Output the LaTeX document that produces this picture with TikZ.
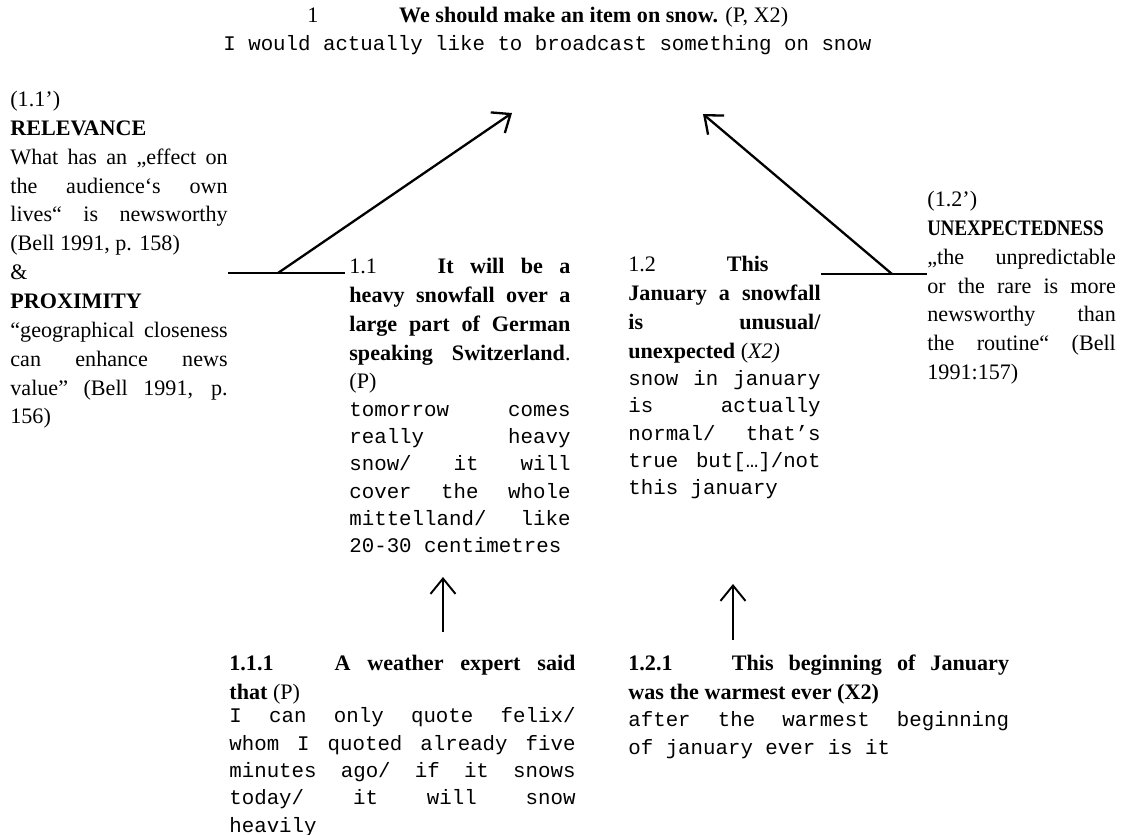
\documentclass[tikz,border=0pt]{standalone}
\usepackage{graphicx}
\usepackage{fontspec}
\setmainfont{Liberation Serif}
\setmonofont{Liberation Mono}
\usetikzlibrary{arrows.meta}
\setlength{\parindent}{0pt}

% mono text with stretchable spaces
\newcommand\tw{\ttfamily\fontsize{10.8}{14.2}\selectfont\spaceskip=0.6em plus 3em minus 0.05em\relax}

\tikzset{
  txt/.style={anchor=north west, inner sep=0pt, align=justify,
    font=\fontsize{11.5}{15}\selectfont},
  arr/.style={-{Straight Barb[length=8pt,width=13pt]}, line width=1.2pt},
  bar/.style={line width=1pt},
}

\begin{document}
\begin{tikzpicture}[x=0.52pt,y=-0.52pt]
    \useasboundingbox (0,0) rectangle (1127,835);

    % claim 1
    \node[txt, anchor=west, align=left] (title) at (307,17)
        {1\hspace{42pt}\textbf{We should make an item on snow.} (P, X2)};
    \node[txt, anchor=west, align=left] (gloss) at (223,45)
        {\tw I would actually like to broadcast something on snow};

    % warrant 1.1'
    \node[txt, text width=113pt] (rel) at (10,86) {\strut(1.1’)\par
        \textbf{RELEVANCE}\par
        What has an „effect on\linebreak the audience‘s own\linebreak lives“ is newsworthy\linebreak (Bell 1991, p. 158)\par
        \&\par
        \textbf{PROXIMITY}\par
        “geographical closeness\linebreak can enhance news\linebreak value” (Bell 1991, p.\linebreak 156)};

    % premise 1.1
    \node[txt, text width=115pt] (n11) at (349,253) {\strut1.1\hspace{2em} \textbf{It will be a}\linebreak
        \textbf{heavy snowfall over a}\linebreak
        \textbf{large part of German}\linebreak
        \textbf{speaking Switzerland}.\linebreak
        (P)\par
        {\tw tomorrow comes\linebreak really heavy\linebreak snow/ it will\linebreak cover the whole\linebreak mittelland/ like\linebreak 20-30 centimetres\par}};

    % premise 1.2
    \node[txt, text width=100pt] (n12) at (628,251) {\strut1.2\hspace{3.2em}\textbf{This}\hfil\break
        \textbf{January a snowfall}\linebreak
        \textbf{is unusual/}\linebreak
        \textbf{unexpected} (\textit{X2)}\par
        {\tw snow in january\linebreak is actually\linebreak normal/ that’s\linebreak true but[…]/not\linebreak this january\par}};

    % warrant 1.2'
    \node[txt, text width=98pt] (n12w) at (927,186) {\strut(1.2’)\par
        \textbf{\scalebox{0.85}[1]{UNEXPECTEDNESS}}\par
        „the unpredictable\linebreak or the rare is more\linebreak newsworthy than\linebreak the routine“ (Bell\linebreak 1991:157)};

    % premise 1.1.1
    \node[txt, text width=180pt] (n111) at (229,650) {\strut\textbf{1.1.1\hspace{2em} A weather expert said}\linebreak
        \textbf{that} (P)\par\vspace{-2pt}
        {\tw I can only quote felix/\linebreak whom I quoted already five\linebreak minutes ago/ if it snows\linebreak today/ it will snow\linebreak heavily\par}};

    % premise 1.2.1
    \node[txt, text width=198pt] (n121) at (628,650) {\strut\textbf{1.2.1\hspace{2em} This beginning of January}\linebreak
        \textbf{was the warmest ever (X2)}\par
        {\tw after the warmest beginning\linebreak of january ever is it\par}};

    % links
    \coordinate (lj) at (278,273);
    \coordinate (lt) at (512,113);
    \coordinate (rj) at (892,274);
    \coordinate (rt) at (703,114);
    \draw[bar] (rel.east |- lj) -- ([xshift=-2pt]n11.west |- lj);
    \draw[arr] (lj) -- (lt);
    \draw[bar] (n12.east |- rj) -- (n12w.west |- rj);
    \draw[arr] (rj) -- (rt);

    \coordinate (a1) at (443,632);
    \coordinate (b1) at (443,577);
    \coordinate (a2) at (733,640);
    \coordinate (b2) at (733,584);
    \draw[arr, line width=1pt] (a1) -- (b1);
    \draw[arr, line width=1pt] (a2) -- (b2);
\end{tikzpicture}
\end{document}
